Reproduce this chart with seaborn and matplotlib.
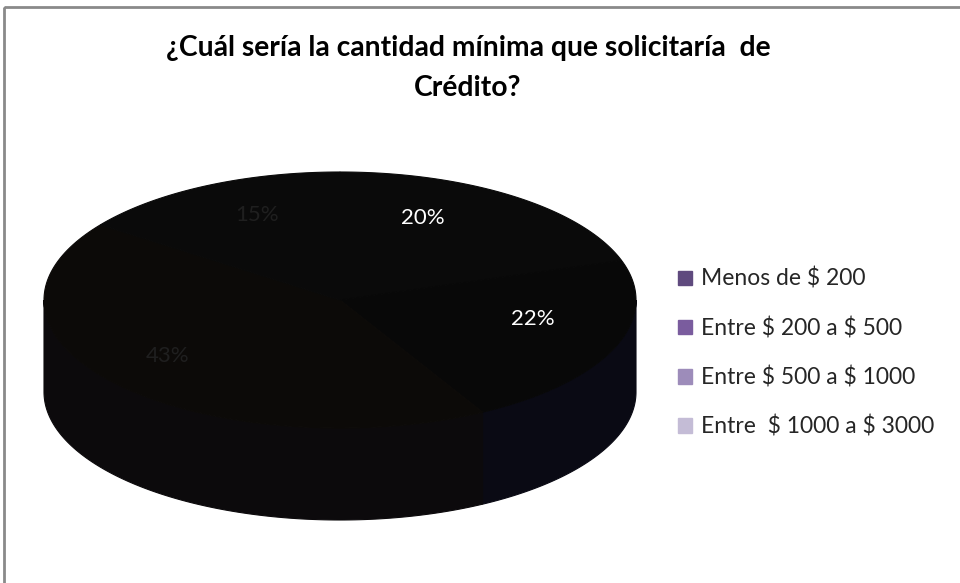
import numpy as np
import matplotlib
matplotlib.use("Agg")
import matplotlib.pyplot as plt
from matplotlib.patches import Polygon, Rectangle, Patch
import seaborn as sns

# ---- data ----
categories = ["Menos de $ 200", "Entre $ 200 a $ 500",
              "Entre $ 500 a $ 1000", "Entre  $ 1000 a $ 3000"]
values = [20, 22, 43, 15]
pct_labels = ["20%", "22%", "43%", "15%"]
legend_colors = ["#5f4a7e", "#7a5c9e", "#9d8cba", "#c4bcd6"]
top_colors = ["#0a0a0a", "#080808", "#0c0a08", "#0a0a0a"]
side_colors = ["#0a0a10", "#0a0a14", "#0c0a0c", "#0a0a0c"]
label_colors = ["white", "white", "#1f1f1f", "#1f1f1f"]
title = "¿Cuál sería la cantidad mínima que solicitaría  de\nCrédito?"

sns.set_theme(style="white")
plt.rcParams['font.family'] = ['Lato', 'DejaVu Sans']
plt.rcParams['text.parse_math'] = False

fig = plt.figure(figsize=(9.6, 5.83), dpi=100)
ax = fig.add_axes([0, 0, 1, 1])
ax.set_xlim(0, 960)
ax.set_ylim(583, 0)
ax.axis('off')

# frame
ax.add_patch(Rectangle((4, 7), 1100, 700, fill=False, edgecolor="#8a8a8a",
                       lw=2, clip_on=False))

# 3D pie geometry (layout)
cx, cy, rx, ry, depth = 340, 300, 296, 128, 92
label_r = 0.72
label_nudge = [(-42, -7), (-5, -15), (-13, -5), (14, -3)]

fracs = np.array(values, dtype=float) / np.sum(values)
bounds = np.concatenate([[0], np.cumsum(fracs)]) * 2 * np.pi


def arc(t0, t1, dy=0.0, n=120):
    t = np.linspace(t0, t1, n)
    return np.column_stack([cx + rx * np.sin(t), cy - ry * np.cos(t) + dy])


# side walls (front half)
for i in range(len(values)):
    a, b = bounds[i], bounds[i + 1]
    lo, hi = max(a, np.pi / 2), min(b, 3 * np.pi / 2)
    if hi > lo:
        top = arc(lo, hi)
        bot = arc(hi, lo, dy=depth)
        ax.add_patch(Polygon(np.vstack([top, bot]), closed=True,
                             facecolor=side_colors[i], edgecolor=side_colors[i],
                             lw=0.8))

# top faces
for i in range(len(values)):
    a, b = bounds[i], bounds[i + 1]
    pts = np.vstack([[cx, cy], arc(a, b)])
    ax.add_patch(Polygon(pts, closed=True, facecolor=top_colors[i],
                         edgecolor=top_colors[i], lw=0.8))

# labels
for i in range(len(values)):
    m = (bounds[i] + bounds[i + 1]) / 2
    x = cx + label_r * rx * np.sin(m) + label_nudge[i][0]
    y = cy - label_r * ry * np.cos(m) + label_nudge[i][1]
    ax.text(x, y, pct_labels[i], color=label_colors[i], fontsize=16,
            ha='center', va='center')

# title
ax.text(468, 68, title, ha='center', va='center', fontsize=20.3,
        fontweight='bold', color='black', linespacing=1.62)

# legend
handles = [Patch(facecolor=c, edgecolor=c) for c in legend_colors]
fig.legend(handles, categories, loc='upper left',
           bbox_to_anchor=(678 / 960, 1 - 268 / 583), frameon=False,
           fontsize=16.5, handlelength=0.6, handleheight=0.6,
           handletextpad=0.42, labelspacing=1.19, borderpad=0,
           borderaxespad=0)

fig.savefig('out.png', dpi=100)
